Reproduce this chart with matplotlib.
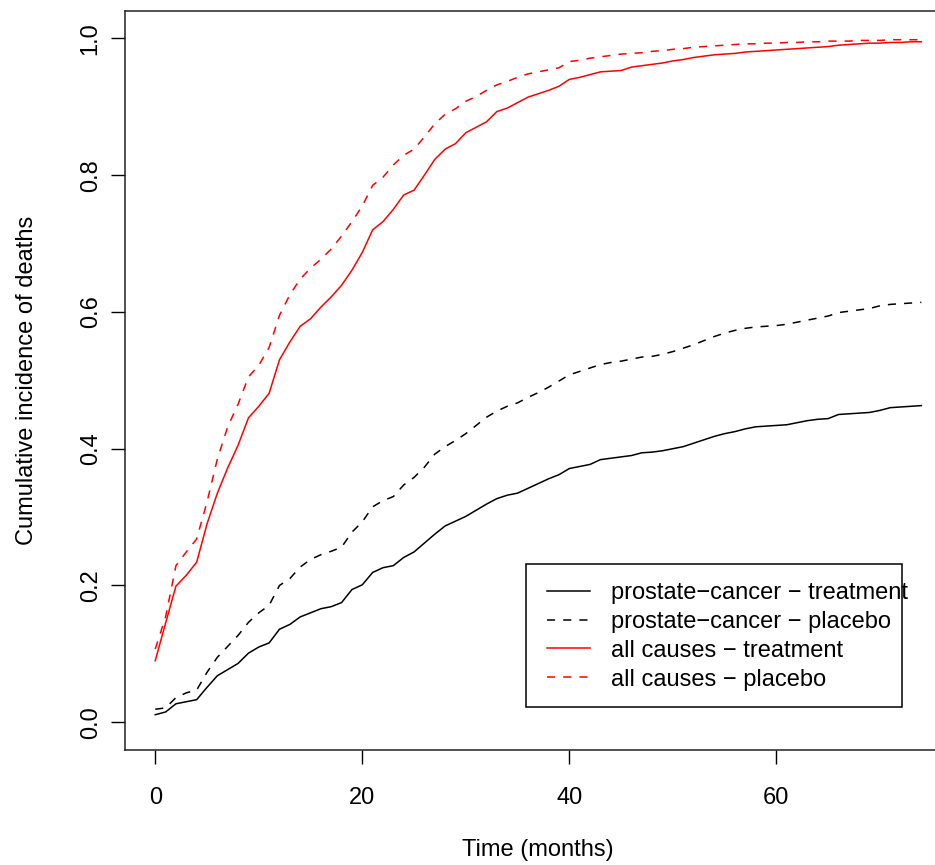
import matplotlib
matplotlib.use("Agg")
import matplotlib.pyplot as plt
from matplotlib.patches import Rectangle
import numpy as np

plt.rcParams['font.family'] = ['Liberation Sans', 'DejaVu Sans']

# months 0..74
months = list(range(75))

# cumulative incidence
pc_treatment = [0.011, 0.015, 0.027, 0.030, 0.033, 0.051, 0.068, 0.077, 0.086, 0.101,
                0.110, 0.116, 0.136, 0.143, 0.154, 0.160, 0.166, 0.169, 0.175, 0.194,
                0.201, 0.219, 0.226, 0.229, 0.241, 0.249, 0.262, 0.275, 0.287, 0.294,
                0.301, 0.310, 0.319, 0.327, 0.332, 0.335, 0.342, 0.349, 0.356, 0.362,
                0.371, 0.374, 0.377, 0.384, 0.386, 0.388, 0.390, 0.394, 0.395, 0.397,
                0.400, 0.403, 0.408, 0.413, 0.418, 0.422, 0.425, 0.429, 0.432, 0.433,
                0.434, 0.435, 0.438, 0.441, 0.443, 0.444, 0.450, 0.451, 0.452, 0.453,
                0.456, 0.460, 0.461, 0.462, 0.463]

pc_placebo = [0.019, 0.021, 0.036, 0.043, 0.047, 0.073, 0.095, 0.111, 0.127, 0.146,
              0.160, 0.171, 0.200, 0.210, 0.227, 0.238, 0.245, 0.250, 0.256, 0.278,
              0.293, 0.315, 0.324, 0.330, 0.347, 0.358, 0.373, 0.392, 0.403, 0.412,
              0.422, 0.434, 0.446, 0.455, 0.462, 0.467, 0.475, 0.482, 0.490, 0.499,
              0.508, 0.513, 0.518, 0.523, 0.526, 0.528, 0.531, 0.534, 0.535, 0.538,
              0.542, 0.547, 0.552, 0.558, 0.564, 0.569, 0.573, 0.576, 0.578, 0.579,
              0.580, 0.582, 0.585, 0.588, 0.591, 0.594, 0.599, 0.601, 0.603, 0.605,
              0.609, 0.611, 0.612, 0.613, 0.614]

all_treatment = [0.090, 0.145, 0.199, 0.215, 0.234, 0.290, 0.335, 0.372, 0.405, 0.445,
                 0.462, 0.481, 0.530, 0.556, 0.579, 0.590, 0.607, 0.622, 0.639, 0.661,
                 0.687, 0.720, 0.732, 0.750, 0.771, 0.778, 0.800, 0.823, 0.838, 0.846,
                 0.862, 0.870, 0.878, 0.893, 0.898, 0.906, 0.914, 0.919, 0.924, 0.930,
                 0.940, 0.943, 0.947, 0.951, 0.952, 0.953, 0.958, 0.960, 0.962, 0.964,
                 0.967, 0.969, 0.972, 0.974, 0.976, 0.977, 0.978, 0.980, 0.981, 0.982,
                 0.983, 0.984, 0.985, 0.986, 0.987, 0.988, 0.990, 0.991, 0.992, 0.993,
                 0.993, 0.994, 0.994, 0.995, 0.995]

all_placebo = [0.107, 0.154, 0.229, 0.249, 0.268, 0.322, 0.385, 0.432, 0.465, 0.505,
               0.522, 0.548, 0.595, 0.625, 0.648, 0.664, 0.677, 0.692, 0.711, 0.732,
               0.755, 0.785, 0.797, 0.815, 0.829, 0.838, 0.856, 0.875, 0.889, 0.897,
               0.908, 0.915, 0.924, 0.932, 0.937, 0.943, 0.948, 0.951, 0.954, 0.957,
               0.966, 0.968, 0.971, 0.973, 0.975, 0.977, 0.978, 0.979, 0.981, 0.982,
               0.984, 0.985, 0.987, 0.988, 0.989, 0.990, 0.991, 0.992, 0.992, 0.993,
               0.993, 0.994, 0.994, 0.995, 0.995, 0.996, 0.996, 0.996, 0.997, 0.997,
               0.997, 0.998, 0.998, 0.998, 0.998]

labels = ['prostate\u2212cancer \u2212 treatment', 'prostate\u2212cancer \u2212 placebo',
          'all causes \u2212 treatment', 'all causes \u2212 placebo']

xticks = [0, 20, 40, 60]
yticks = [0.0, 0.2, 0.4, 0.6, 0.8, 1.0]

FS = 17
fig = plt.figure(figsize=(9.35, 8.65), dpi=100)
# right side of the box runs past the image edge, as in the reference
ax = fig.add_axes([124.6 / 935, 1 - 749.6 / 865, (952 - 124.6) / 935, (749.6 - 11) / 865])

lw = 1.1
dash = (0, (5.3, 5.3))
ax.plot(months, pc_treatment, color='black', lw=lw, label=labels[0])
ax.plot(months, pc_placebo, color='black', lw=lw, linestyle=dash, label=labels[1])
ax.plot(months, all_treatment, color='red', lw=lw, label=labels[2])
ax.plot(months, all_placebo, color='red', lw=lw, linestyle=dash, label=labels[3])

xmax = months[-1]
ax.set_xlim(-0.04 * xmax, 1.04 * xmax)
ax.set_ylim(-0.04, 1.04)
ax.set_xticks(xticks)
ax.set_xticklabels([str(t) for t in xticks])
ax.set_yticks(yticks)
ax.set_yticklabels(['%.1f' % t for t in yticks], rotation=90, va='center')

ax.tick_params(axis='both', direction='out', length=10, width=1, labelsize=FS)
ax.tick_params(axis='x', pad=17)
ax.tick_params(axis='y', pad=6.5)
for s in ax.spines.values():
    s.set_linewidth(1.1)
    s.set_color('#222222')

ax.set_xlabel('Time (months)', fontsize=FS, va='center')
ax.xaxis.set_label_coords(0.5, -100 / 738.6)
ax.set_ylabel('Cumulative incidence of deaths', fontsize=FS, va='center')
ax.yaxis.set_label_coords((27 - 124.6) / 827.4, 0.5)

# legend, text overflowing the frame like R does
leg = ax.legend(loc='upper left', bbox_to_anchor=((547 - 124.6) / 827.4, (749.6 - 582) / 738.6),
                frameon=False, fontsize=FS, borderpad=0, borderaxespad=0,
                handlelength=1.82, handletextpad=0.9, labelspacing=0.29)
ax.add_patch(Rectangle(((525.7 - 124.6) / 827.4, (749.6 - 706.7) / 738.6),
                       (902.3 - 525.7) / 827.4, (706.7 - 564) / 738.6,
                       transform=ax.transAxes, fill=False, edgecolor='black', lw=1.1, zorder=5))

fig.savefig('out.png', dpi=100)
